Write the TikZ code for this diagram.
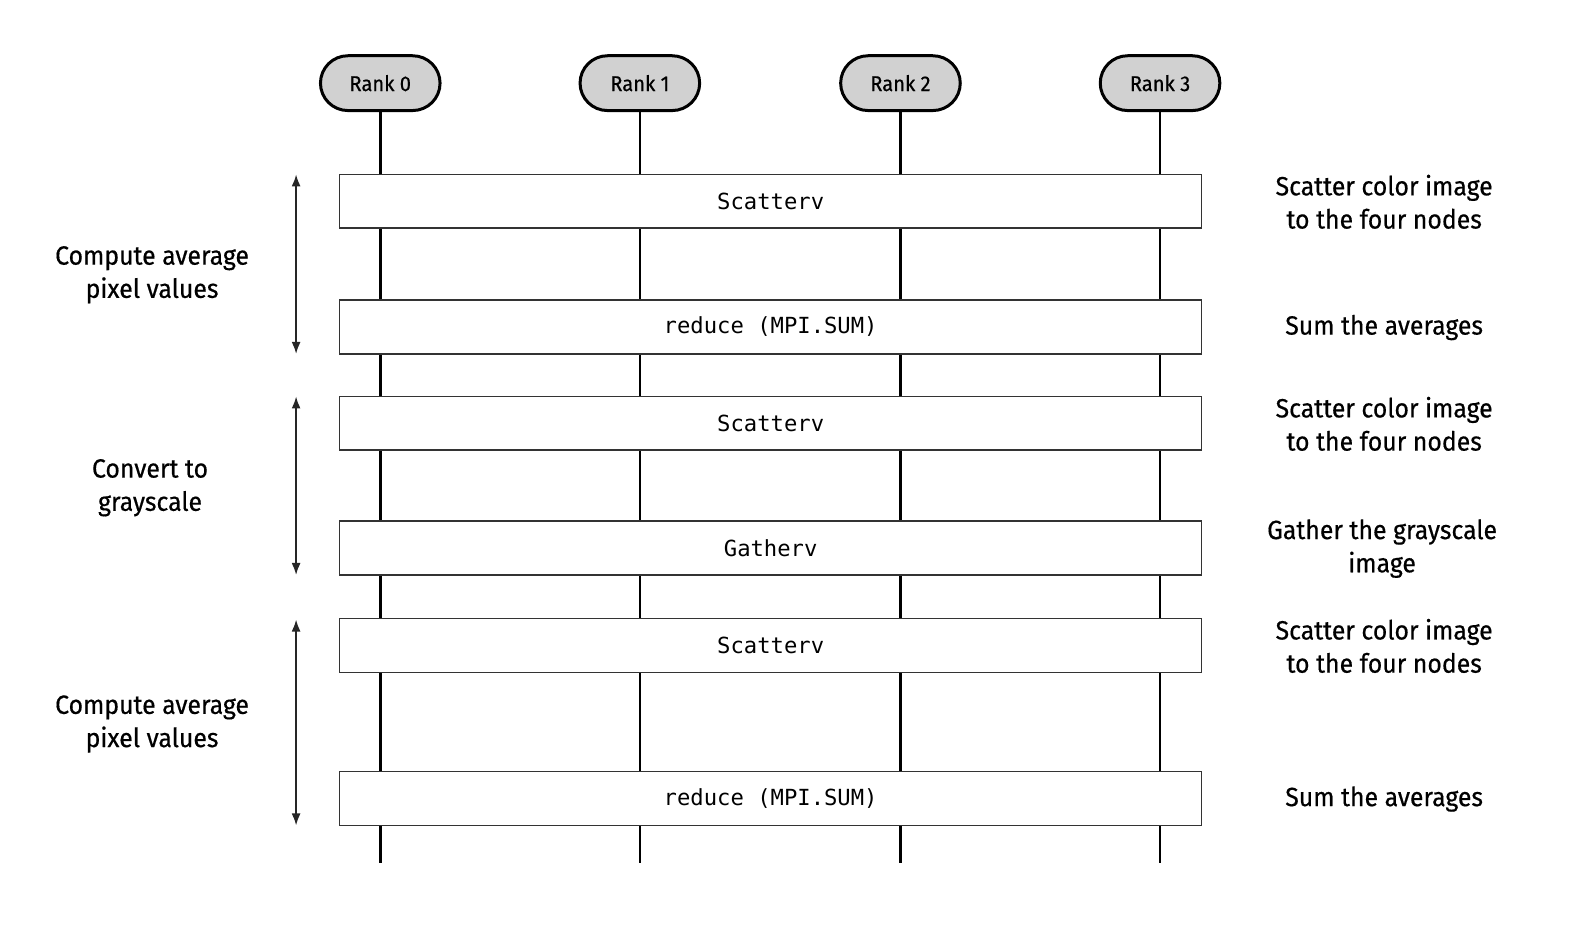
\documentclass[tikz,border=0pt]{standalone}
\usepackage{fontspec}
\setmainfont{Fira Sans}[FakeStretch=0.94,FakeBold=0.5]
\setmonofont{DejaVu Sans Mono}
\usetikzlibrary{arrows.meta}
\begin{document}
\begin{tikzpicture}[x=0.50702pt,y=-0.50702pt,
  rankpill/.style={draw=black,line width=1.5pt,fill=black!18,rounded corners=13.7pt,
    minimum width=59.8pt,minimum height=27.4pt,inner sep=0pt,font=\fontsize{10.7}{13}\selectfont},
  lifeline/.style={line width=1.3pt,black},
  opbox/.style={draw=black!80,line width=0.8pt,fill=white,minimum width=431pt,
    minimum height=26.9pt,inner sep=0pt,font=\ttfamily\fontsize{11.1}{13}\selectfont},
  phase/.style={line width=0.8pt,black!85,{Latex[length=6pt,width=4.5pt]}-{Latex[length=6pt,width=4.5pt]}},
  sidelabel/.style={align=center,font=\fontsize{13.2}{16.6}\selectfont,inner sep=0pt}]
\fill[white] (0,0) rectangle (1568,929);
\path[use as bounding box] (0,0) rectangle (1568,929);
% rank heads
\node[rankpill] (r0) at (375,82) {Rank 0};
\node[rankpill] (r1) at (631,82) {Rank 1};
\node[rankpill] (r2) at (888,82) {Rank 2};
\node[rankpill] (r3) at (1144,82) {Rank 3};
\coordinate (e0) at (375,851);
\coordinate (e1) at (631,851);
\coordinate (e2) at (888,851);
\coordinate (e3) at (1144,851);
\draw[lifeline] (r0.south) -- (e0);
\draw[lifeline] (r1.south) -- (e1);
\draw[lifeline] (r2.south) -- (e2);
\draw[lifeline] (r3.south) -- (e3);
% operation boxes
\node[opbox] (b1) at (760,198.5) {Scatterv};
\node[opbox] (b2) at (760,322.5) {reduce (MPI.SUM)};
\node[opbox] (b3) at (760,417.5) {Scatterv};
\node[opbox] (b4) at (760,540.5) {Gatherv};
\node[opbox] (b5) at (760,636.5) {Scatterv};
\node[opbox] (b6) at (760,787.5) {reduce (MPI.SUM)};
% phase arrows
\coordinate (p1a) at (292,172);
\coordinate (p1b) at (292,349);
\coordinate (p2a) at (292,391);
\coordinate (p2b) at (292,567);
\coordinate (p3a) at (292,611);
\coordinate (p3b) at (292,814);
\draw[phase] (p1a) -- (p1b);
\draw[phase] (p2a) -- (p2b);
\draw[phase] (p3a) -- (p3b);
% left labels
\node[sidelabel] (l1) at (150,271) {Compute average\\pixel values};
\node[sidelabel] (l2) at (148,481) {Convert to\\grayscale};
\node[sidelabel] (l3) at (150,714) {Compute average\\pixel values};
% right labels
\node[sidelabel] (t1) at (1365,199) {Scatter color image\\to the four nodes};
\node[sidelabel] (t2) at (1365,323) {Sum the averages};
\node[sidelabel] (t3) at (1365,418) {Scatter color image\\to the four nodes};
\node[sidelabel] (t4) at (1363,541) {Gather the grayscale\\image};
\node[sidelabel] (t5) at (1365,637) {Scatter color image\\to the four nodes};
\node[sidelabel] (t6) at (1365,788) {Sum the averages};
\end{tikzpicture}
\end{document}
